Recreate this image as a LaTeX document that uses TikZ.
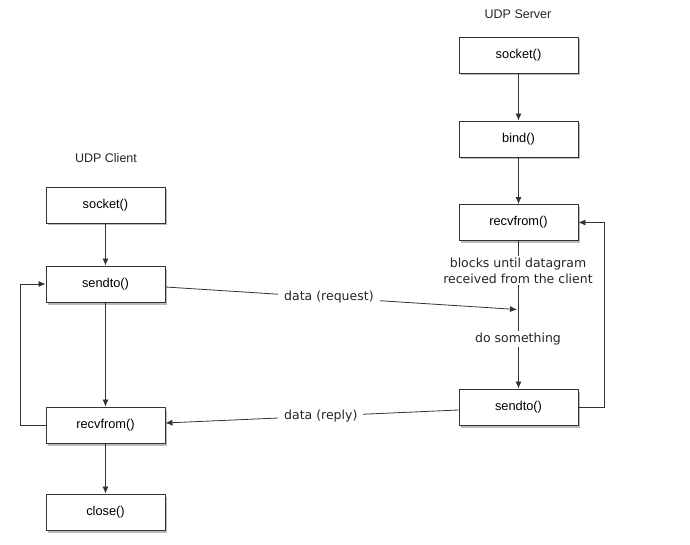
\documentclass[tikz,border=0pt]{standalone}
\usepackage{fontspec}
\setmainfont{Liberation Sans}
\newfontfamily\lblfont{DejaVu Sans}
\usetikzlibrary{arrows.meta,shadows,calc}
\definecolor{ln}{HTML}{333333}
\tikzset{
  fnbox/.style={draw=ln, line width=0.9pt, fill=white, minimum width=119pt, minimum height=36pt,
    inner sep=0pt, font=\fontsize{12.8}{14}\selectfont,
    drop shadow={shadow xshift=1.5pt, shadow yshift=-2.5pt, opacity=0.45, fill=black!60}},
  conn/.style={draw=ln, line width=0.8pt, -{Latex[length=7pt,width=6pt]}},
  plain/.style={draw=ln, line width=0.8pt},
  lbl/.style={fill=white, inner xsep=6pt, inner ysep=2pt, font=\lblfont\fontsize{12.5}{16}\selectfont, align=center, text=black!85},
  title/.style={font=\fontsize{12.5}{14}\selectfont, text=black!85}
}
\begin{document}
\begin{tikzpicture}[x=1pt,y=-1pt]
\useasboundingbox (0,0) rectangle (690,545);
% titles
\node[title] (tserver) at (518,14) {UDP Server};
\node[title] (tclient) at (106,158) {UDP Client};
% server
\node[fnbox] (ssock) at (518.5,55) {socket()};
\node[fnbox] (sbind) at (518.5,139) {bind()};
\node[fnbox] (srecv) at (518.5,222.5) {recvfrom()};
\node[fnbox] (ssend) at (518.5,407) {sendto()};
% client
\node[fnbox] (csock) at (105.5,205) {socket()};
\node[fnbox] (csend) at (105.5,284) {sendto()};
\node[fnbox] (crecv) at (105.5,425) {recvfrom()};
\node[fnbox] (cclose) at (105.5,512) {close()};
% server flow
\draw[conn] (ssock) -- (sbind);
\draw[conn] (sbind) -- (srecv);
\draw[conn] (srecv) -- (ssend);
\node[lbl] (blk) at (518,270.5) {blocks until datagram\\received from the client};
\node[lbl] (dosm) at (518,339) {do something};
\coordinate (hit) at (517,309.5);
\coordinate (rr1) at (604,407);
\coordinate (rr2) at (604,222.5);
\draw[conn] (ssend.east) -- (rr1) -- (rr2) -- (srecv.east);
% client flow
\draw[conn] (csock) -- (csend);
\draw[conn] (csend) -- (crecv);
\draw[conn] (crecv) -- (cclose);
\coordinate (cl1) at (20.5,425);
\coordinate (cl2) at (20.5,284);
\draw[conn] (crecv.west) -- (cl1) -- (cl2) -- (csend.west);
% data exchange
\draw[conn] ($(csend.east)+(0,3)$) -- node[lbl, pos=0.465] (req) {data (request)} (hit);
\draw[conn] ($(ssend.west)+(0,3)$) -- node[lbl, pos=0.47] (rep) {data (reply)} ($(crecv.east)+(0,-2)$);
\end{tikzpicture}
\end{document}
